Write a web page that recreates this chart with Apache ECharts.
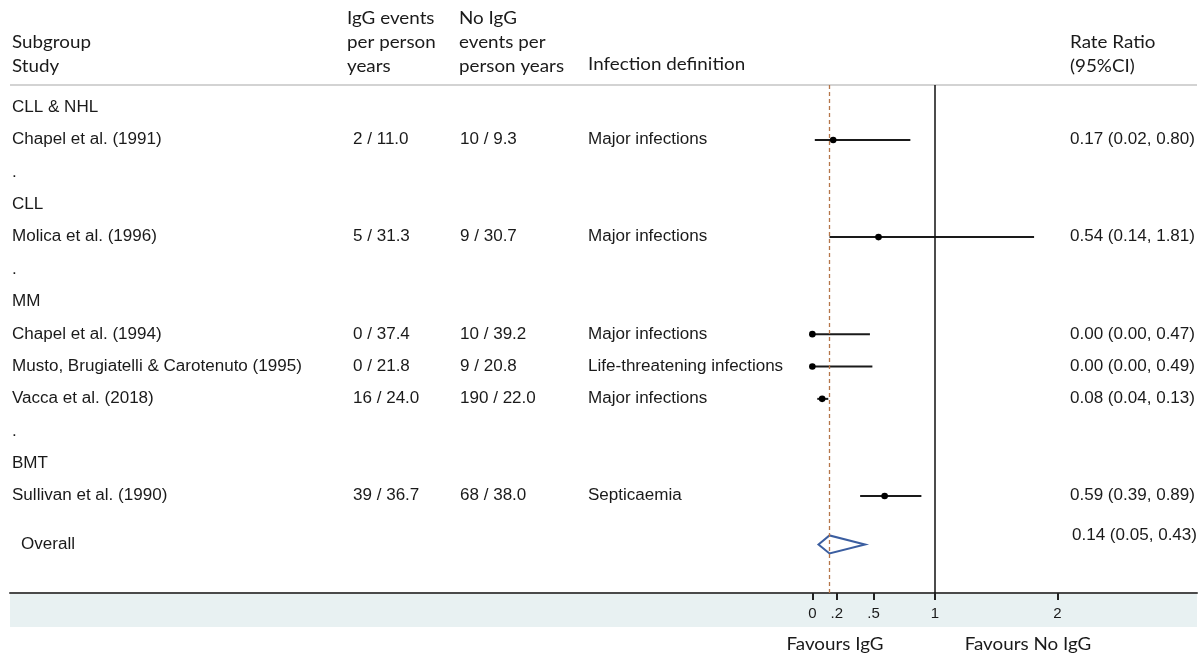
<!DOCTYPE html>
<html><head><meta charset="utf-8">
<script src="https://cdn.jsdelivr.net/npm/echarts@6/dist/echarts.min.js"></script>
<style>html,body{margin:0;padding:0;background:#fff}#c{width:1203px;height:657px}</style>
</head><body><div id="c"></div>
<script>
// ---- data ----
const rowLabels = ['CLL & NHL','Chapel et al. (1991)','.','CLL','Molica et al. (1996)','.','MM','Chapel et al. (1994)','Musto, Brugiatelli & Carotenuto (1995)','Vacca et al. (2018)','.','BMT','Sullivan et al. (1990)'];
const iggEvents = ['','2 / 11.0','','','5 / 31.3','','','0 / 37.4','0 / 21.8','16 / 24.0','','','39 / 36.7'];
const noIggEvents = ['','10 / 9.3','','','9 / 30.7','','','10 / 39.2','9 / 20.8','190 / 22.0','','','68 / 38.0'];
const infectionDef = ['','Major infections','','','Major infections','','','Major infections','Life-threatening infections','Major infections','','','Septicaemia'];
const rateRatio = [null,0.17,null,null,0.54,null,null,0.00,0.00,0.08,null,null,0.59];
const ciLow     = [null,0.02,null,null,0.14,null,null,0.00,0.00,0.04,null,null,0.39];
const ciHigh    = [null,0.80,null,null,1.81,null,null,0.47,0.49,0.13,null,null,0.89];
const overallLabel = 'Overall';
const overallRR = 0.14, overallLow = 0.05, overallHigh = 0.43;
const tickValues = [0, 0.2, 0.5, 1, 2];
const tickLabels = ['0', '.2', '.5', '1', '2'];
const favourLeft = 'Favours IgG', favourRight = 'Favours No IgG';

// ---- layout / styles ----
const TXT = '#1a1a1a';
const bodyFont = '16px "Liberation Sans", Arial, sans-serif';
const BODY_SX = 1.065;
const headFont = '16.5px Lato, "Open Sans", sans-serif';
const HEAD_SX = 1.14;
const overallRow = rowLabels.length + 0.5;
const fmt = v => v.toFixed(2);

const chart = echarts.init(document.getElementById('c'), null, {renderer: 'canvas'});

function textColumn(getText, x, align) {
  return {
    type: 'custom', coordinateSystem: 'cartesian2d', silent: true, clip: false,
    data: rowLabels.map((_, i) => [0, i]),
    renderItem: (params, api) => {
      const t = getText(params.dataIndex);
      if (!t) return null;
      const y = api.coord([0, api.value(1)])[1];
      return {type: 'text', x: x, y: y, scaleX: BODY_SX,
        style: {text: t, font: bodyFont, fill: TXT, align: align || 'left', verticalAlign: 'middle'}};
    }
  };
}
function headText(text, x, y, align) {
  return {type: 'text', x: x, y: y, scaleX: HEAD_SX,
    style: {text: text, font: headFont, fill: TXT, align: align || 'left', verticalAlign: 'middle'}};
}

const ciData = rowLabels.map((_, i) => rateRatio[i] == null ? null : [rateRatio[i], i, ciLow[i], ciHigh[i]]).filter(d => d);

const option = {
  animation: false,
  grid: {left: 10, right: 6, top: 85, bottom: 64, containLabel: false},
  xAxis: {
    type: 'value', min: -6.55, max: 3.14,
    splitLine: {show: false},
    axisLine: {show: true, onZero: false, lineStyle: {color: '#4a4a4a', width: 2}},
    axisTick: {show: true, customValues: tickValues, length: 7, lineStyle: {color: '#222', width: 2}},
    axisLabel: {show: true, customValues: tickValues, margin: 13, fontSize: 15, color: TXT,
      fontFamily: '"Liberation Sans", Arial, sans-serif',
      formatter: v => { const k = tickValues.indexOf(v); return k >= 0 ? tickLabels[k] : ''; }}
  },
  yAxis: {type: 'value', inverse: true, min: -0.7, max: 15, show: false},
  graphic: [
    {type: 'rect', z: -10, shape: {x: 10, y: 594, width: 1187, height: 33}, style: {fill: '#e8f1f2'}},
    {type: 'line', shape: {x1: 10, y1: 85, x2: 1197, y2: 85}, style: {stroke: '#c4c4c4', lineWidth: 1.5}},
    headText('Subgroup', 12, 43), headText('Study', 12, 67),
    headText('IgG events', 347, 19), headText('per person', 347, 43), headText('years', 347, 67),
    headText('No IgG', 459, 19), headText('events per', 459, 43), headText('person years', 459, 67),
    headText('Infection definition', 588, 65),
    headText('Rate Ratio', 1070, 43), headText('(95%CI)', 1070, 67),
    headText(favourLeft, 835, 645, 'center'),
    headText(favourRight, 1028, 645, 'center')
  ],
  series: [
    textColumn(i => rowLabels[i], 12),
    textColumn(i => iggEvents[i], 353),
    textColumn(i => noIggEvents[i], 460),
    textColumn(i => infectionDef[i], 588),
    textColumn(i => rateRatio[i] == null ? '' : fmt(rateRatio[i]) + ' (' + fmt(ciLow[i]) + ', ' + fmt(ciHigh[i]) + ')', 1195, 'right'),
    {
      type: 'custom', silent: true, clip: false,
      data: ciData,
      renderItem: (params, api) => {
        const p = api.coord([api.value(0), api.value(1)]);
        const a = api.coord([api.value(2), api.value(1)]);
        const b = api.coord([api.value(3), api.value(1)]);
        return {type: 'group', children: [
          {type: 'line', shape: {x1: a[0], y1: a[1], x2: b[0], y2: b[1]}, style: {stroke: '#1a1a1a', lineWidth: 2}},
          {type: 'circle', shape: {cx: p[0], cy: p[1], r: 3.3}, style: {fill: '#000'}}
        ]};
      },
      markLine: {
        silent: true, symbol: 'none', label: {show: false},
        data: [
          {xAxis: 1, lineStyle: {color: '#111', width: 1.5, type: 'solid'}},
          {xAxis: overallRR, lineStyle: {color: '#b5764a', width: 1.3, type: [4, 3]}}
        ]
      }
    },
    {
      type: 'custom', silent: true, clip: false,
      data: [[overallRR, overallRow, overallLow, overallHigh]],
      renderItem: (params, api) => {
        const y = api.value(1);
        const c = api.coord([api.value(0), y]);
        const l = api.coord([api.value(2), y]);
        const r = api.coord([api.value(3), y]);
        const h = 9;
        return {type: 'group', children: [
          {type: 'polygon', shape: {points: [[l[0], c[1]], [c[0], c[1] - h], [r[0], c[1]], [c[0], c[1] + h]]},
            style: {fill: 'none', stroke: '#3b5ea0', lineWidth: 2}},
          {type: 'text', x: 21, y: c[1], scaleX: BODY_SX, style: {text: overallLabel, font: bodyFont, fill: TXT, verticalAlign: 'middle'}},
          {type: 'text', x: 1197, y: c[1] - 9, scaleX: BODY_SX, style: {text: fmt(api.value(0)) + ' (' + fmt(api.value(2)) + ', ' + fmt(api.value(3)) + ')', font: bodyFont, fill: TXT, align: 'right', verticalAlign: 'middle'}}
        ]};
      }
    }
  ]
};
chart.setOption(option);
</script></body></html>
